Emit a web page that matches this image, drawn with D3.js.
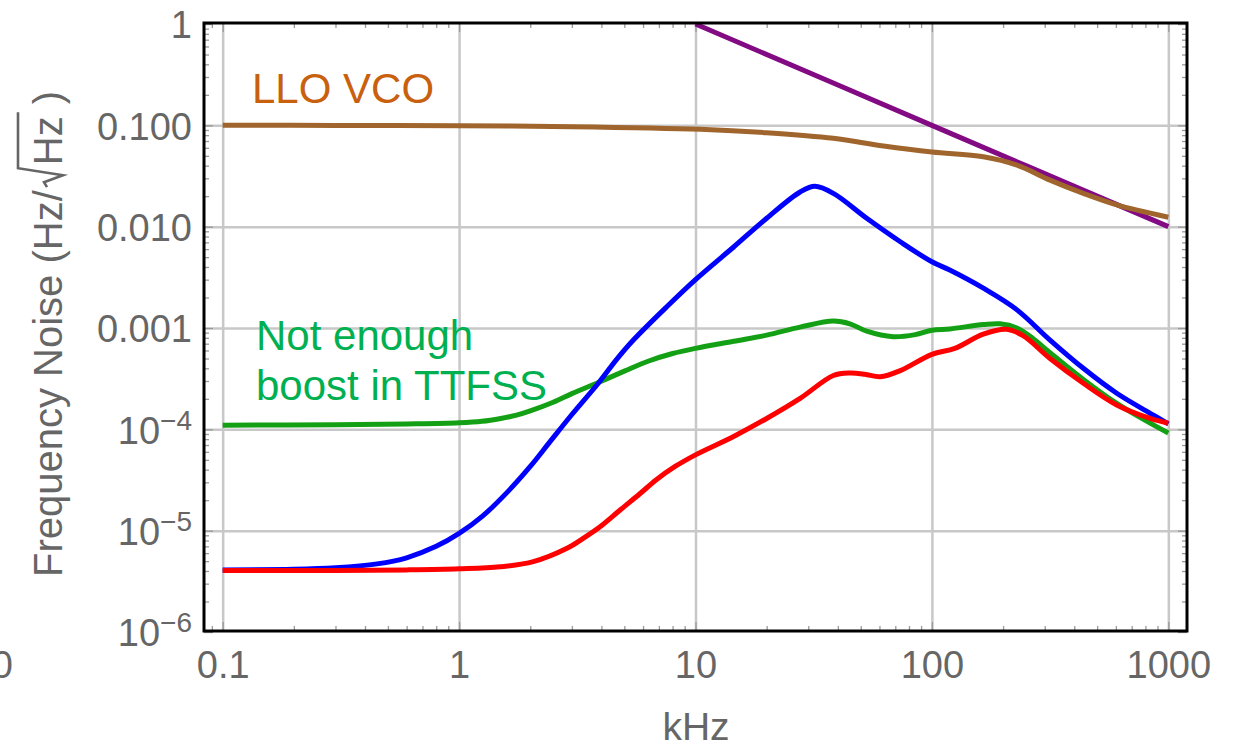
<!DOCTYPE html>
<html>
<head>
<meta charset="utf-8">
<script src="https://cdn.jsdelivr.net/npm/d3@7"></script>
<style>
  html, body { margin: 0; padding: 0; background: #fff; }
  svg { display: block; font-family: "Liberation Sans", Arial, sans-serif; }
</style>
</head>
<body>
<svg id="chart" width="1235" height="747"></svg>
<script>
// ---- data (frequency in kHz, noise in Hz/sqrt(Hz)) ----
const xTicks = [0.1, 1, 10, 100, 1000];
const xTickLabels = ["0.1", "1", "10", "100", "1000"];
const yTicks = [1, 0.1, 0.01, 0.001, 1e-4, 1e-5, 1e-6];
const yTickLabels = ["1", "0.100", "0.010", "0.001", "10^−4", "10^−5", "10^−6"];
const yGrid = [0.1, 0.01, 0.001, 1e-4, 1e-5];

const purpleF = [10, 100, 1000];
const purpleV = [1, 0.1, 0.01];

const brownF = [0.1, 0.3, 1, 3, 10.5, 20, 38.3, 62.4, 100, 165, 229, 316, 437, 605, 1000];
const brownV = [0.1, 0.0998, 0.099, 0.097, 0.0914, 0.0845, 0.0744, 0.0625, 0.0545, 0.049, 0.0405, 0.0288, 0.0213, 0.0164, 0.0124];

const greenF = [0.1, 0.3, 0.6, 1, 1.25, 1.5, 1.75, 2, 2.5, 3, 3.88, 5, 6.3, 8, 10, 14.5, 20, 27.7, 38.3, 45, 53, 68.5, 85, 100, 119, 165, 194, 229, 269, 316, 437, 605, 838, 1000];
const greenV = [1.1e-4, 1.11e-4, 1.13e-4, 1.16e-4, 1.2e-4, 1.28e-4, 1.38e-4, 1.52e-4, 1.85e-4, 2.25e-4, 2.9e-4, 3.75e-4, 4.7e-4, 5.6e-4, 6.3e-4, 7.4e-4, 8.5e-4, 1.02e-3, 1.17e-3, 1.1e-3, 9.3e-4, 8.2e-4, 8.6e-4, 9.5e-4, 9.8e-4, 1.08e-3, 1.1e-3, 1.0e-3, 7.8e-4, 5.7e-4, 3.1e-4, 1.8e-4, 1.15e-4, 9.2e-5];

const blueF = [0.1, 0.2, 0.3, 0.45, 0.6, 0.8, 1, 1.26, 1.6, 2, 2.43, 3, 3.88, 4.64, 5.46, 7.56, 10, 14.5, 20, 27.7, 32, 38.3, 53, 73.5, 100, 119, 165, 229, 316, 437, 605, 838, 1000];
const blueV = [4.1e-6, 4.15e-6, 4.3e-6, 4.7e-6, 5.4e-6, 7.0e-6, 9.4e-6, 1.4e-5, 2.4e-5, 4.3e-5, 7.6e-5, 1.4e-4, 2.85e-4, 4.9e-4, 7.6e-4, 1.62e-3, 3.0e-3, 6.3e-3, 1.21e-2, 2.2e-2, 2.5e-2, 2.13e-2, 1.21e-2, 7.1e-3, 4.5e-3, 3.73e-3, 2.47e-3, 1.51e-3, 7.6e-4, 4.0e-4, 2.27e-4, 1.44e-4, 1.13e-4];

const redF = [0.1, 0.3, 0.6, 1, 1.49, 2.06, 2.86, 3.4, 3.96, 4.8, 5.8, 6.85, 8.2, 10, 14.5, 20, 27.7, 38.3, 45, 52, 60.4, 73.5, 100, 125, 165, 207, 243, 316, 437, 605, 838, 1000];
const redV = [4.05e-6, 4.05e-6, 4.1e-6, 4.2e-6, 4.4e-6, 4.95e-6, 6.7e-6, 8.6e-6, 1.1e-5, 1.6e-5, 2.3e-5, 3.2e-5, 4.3e-5, 5.6e-5, 8.5e-5, 1.28e-4, 2.02e-4, 3.4e-4, 3.6e-4, 3.5e-4, 3.3e-4, 3.8e-4, 5.5e-4, 6.3e-4, 8.7e-4, 9.7e-4, 8.4e-4, 5.0e-4, 2.85e-4, 1.74e-4, 1.28e-4, 1.15e-4];

const series = [
  { name: "purple", f: purpleF, v: purpleV, color: "#820a82" },
  { name: "LLO VCO", f: brownF, v: brownV, color: "#a0652d" },
  { name: "green", f: greenF, v: greenV, color: "#14a014" },
  { name: "blue", f: blueF, v: blueV, color: "#0000ff" },
  { name: "red", f: redF, v: redV, color: "#ff0000" }
];

// ---- layout ----
const W = 1235, H = 747;
const m = { left: 204, top: 23, right: 48, bottom: 116 };
const iw = W - m.left - m.right, ih = H - m.top - m.bottom;
const labelColor = "#666666";

const svg = d3.select("#chart");
const x = d3.scaleLog().domain([Math.pow(10, -1.079), Math.pow(10, 3.079)]).range([0, iw]);
const y = d3.scaleLog().domain([1e-6, 1]).range([ih + 1, 1]);

const plot = svg.append("g").attr("transform", `translate(${m.left},${m.top})`);

// gridlines
plot.append("g").attr("transform", `translate(0,${ih})`)
  .call(d3.axisBottom(x).tickValues(xTicks).tickSize(-ih).tickFormat(""))
  .call(g => g.select(".domain").remove())
  .call(g => g.selectAll("line").attr("stroke", "#c8c8c8").attr("stroke-width", 2.5));
plot.append("g")
  .call(d3.axisLeft(y).tickValues(yGrid).tickSize(-iw).tickFormat(""))
  .call(g => g.select(".domain").remove())
  .call(g => g.selectAll("line").attr("stroke", "#c8c8c8").attr("stroke-width", 2.5));

// minor + major ticks on all four sides (inward)
const xAll = x.ticks();
const yAll = y.ticks();
const isMajor = v => Math.abs(Math.log10(v) - Math.round(Math.log10(v))) < 1e-6;
function tickAxis(axisFn, scale, vals, size, tr) {
  plot.append("g").attr("transform", tr)
    .call(axisFn(scale).tickValues(vals).tickSize(size).tickFormat(""))
    .call(g => g.select(".domain").remove())
    .call(g => g.selectAll("line").attr("stroke", "#9a9a9a").attr("stroke-width", 1.3));
}
const xMin = xAll.filter(v => !isMajor(v)), xMaj = xAll.filter(isMajor);
const yMin = yAll.filter(v => !isMajor(v)), yMaj = yAll.filter(isMajor);
tickAxis(d3.axisBottom, x, xMin, -5, `translate(0,${ih})`);
tickAxis(d3.axisBottom, x, xMaj, -9, `translate(0,${ih})`);
tickAxis(d3.axisTop, x, xMin, -5, `translate(0,0)`);
tickAxis(d3.axisTop, x, xMaj, -9, `translate(0,0)`);
tickAxis(d3.axisLeft, y, yMin, -5, `translate(0,0)`);
tickAxis(d3.axisLeft, y, yMaj, -9, `translate(0,0)`);
tickAxis(d3.axisRight, y, yMin, -5, `translate(${iw},0)`);
tickAxis(d3.axisRight, y, yMaj, -9, `translate(${iw},0)`);

// curves
const line = d3.line()
  .x(d => x(d[0])).y(d => y(d[1]))
  .curve(d3.curveCatmullRom.alpha(0.5));
series.forEach(s => {
  const pts = s.f.map((f, i) => [f, s.v[i]]);
  plot.append("path").datum(pts)
    .attr("d", line)
    .attr("fill", "none")
    .attr("stroke", s.color)
    .attr("stroke-width", 5)
    .attr("stroke-linejoin", "round")
    .attr("stroke-linecap", "butt");
});

// frame
plot.append("rect").attr("x", 0).attr("y", 0).attr("width", iw).attr("height", ih)
  .attr("fill", "none").attr("stroke", "#000").attr("stroke-width", 3);

// x tick labels
plot.append("g").attr("transform", `translate(0,${ih})`)
  .call(d3.axisBottom(x).tickValues(xTicks).tickSize(0).tickPadding(0)
    .tickFormat((d, i) => xTickLabels[i]))
  .call(g => g.select(".domain").remove())
  .call(g => g.selectAll("text")
    .attr("dy", null).attr("y", 47)
    .attr("font-size", 38).attr("font-family", "Liberation Sans, Arial, sans-serif")
    .attr("fill", labelColor));

// y tick labels
plot.append("g")
  .call(d3.axisLeft(y).tickValues(yTicks).tickSize(0).tickPadding(0)
    .tickFormat((d, i) => yTickLabels[i]))
  .call(g => g.select(".domain").remove())
  .call(g => g.selectAll("text")
    .attr("x", -12).attr("dy", "0.36em")
    .attr("font-size", 38).attr("font-family", "Liberation Sans, Arial, sans-serif")
    .attr("fill", labelColor)
    .each(function () {
      const t = d3.select(this);
      const s = t.text();
      if (s.includes("^")) {
        const [base, exp] = s.split("^");
        t.text(null);
        t.append("tspan").text(base);
        t.append("tspan").attr("font-size", 28).attr("dy", -14).text(exp);
      }
    }));

// stray clipped label at far left
svg.append("text").attr("x", 13).attr("y", 678).attr("text-anchor", "end")
  .attr("font-size", 38).attr("fill", labelColor).text("0");

// x axis title
svg.append("text").attr("x", 696).attr("y", 740).attr("text-anchor", "middle")
  .attr("font-size", 39).attr("fill", labelColor).text("kHz");

// y axis title with radical
const fs = 40;
const yt = svg.append("g").attr("transform", "translate(62,577) rotate(-90)")
  .attr("fill", labelColor).attr("font-size", fs);
const t1 = yt.append("text").attr("x", 0).attr("y", 0).text("Frequency Noise (Hz/");
const L1 = t1.node().getComputedTextLength();
const u0 = L1 + 3;
const t2 = yt.append("text").attr("x", u0 + 22).attr("y", 0).text("Hz");
const L2 = t2.node().getComputedTextLength();
yt.append("path")
  .attr("d", `M${u0},${-15} L${u0 + 5},${-18} L${u0 + 12},${1} L${u0 + 19},${-44} L${u0 + 22 + L2 + 4},${-44}`)
  .attr("fill", "none").attr("stroke", labelColor).attr("stroke-width", 2.6)
  .attr("stroke-linejoin", "miter");
yt.append("text").attr("x", u0 + 22 + L2 + 12).attr("y", 0).text(")");

// annotations
svg.append("text").attr("x", 252).attr("y", 103).attr("font-size", 42)
  .attr("fill", "#c8600e").text("LLO VCO");
svg.append("text").attr("x", 256).attr("y", 350).attr("font-size", 42)
  .attr("fill", "#00b050").text("Not enough");
svg.append("text").attr("x", 256).attr("y", 400).attr("font-size", 42)
  .attr("fill", "#00b050").text("boost in TTFSS");
</script>
</body>
</html>
